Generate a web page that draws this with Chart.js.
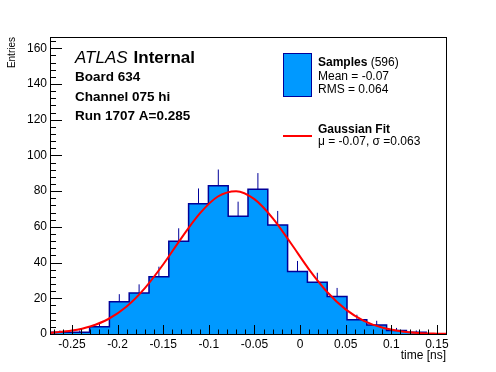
<!DOCTYPE html>
<html>
<head>
<meta charset="utf-8">
<script src="https://cdn.jsdelivr.net/npm/chart.js@4"></script>
<style>
  html, body { margin: 0; padding: 0; background: #fff; }
</style>
</head>
<body>
<canvas id="myChart" width="496" height="372"></canvas>
<script>
// histogram: 20 bins over the axis range
const binLow = -0.274;
const binWidth = 0.0217;
const counts = [1, 1, 4, 18, 23, 32, 52, 73, 83, 66, 81, 61, 35, 29, 21, 8, 5, 2, 1, 0];
const errors = [1, 1, 2, 4.3, 4.8, 5.7, 7.2, 8.5, 9.1, 8.1, 9.1, 7.9, 5.9, 5.3, 4.8, 2.8, 2.4, 1.4, 1, 0];

// gaussian fit curve
const fitX = [-0.274, -0.25, -0.23, -0.21, -0.19, -0.17, -0.15, -0.13, -0.11, -0.09, -0.07, -0.05,
              -0.03, -0.01, 0.01, 0.03, 0.05, 0.07, 0.09, 0.11, 0.13, 0.15, 0.16];
const fitY = [0.6, 1.9, 4.2, 8.4, 15.4, 25.7, 38.9, 53.7, 67.4, 77, 80, 75.5,
              64.9, 50.8, 36.1, 23.4, 13.8, 7.4, 3.6, 1.6, 0.6, 0.2, 0.1];

const xTicks = [-0.25, -0.2, -0.15, -0.1, -0.05, 0, 0.05, 0.1, 0.15];
const xTickLabels = ['-0.25', '-0.2', '-0.15', '-0.1', '-0.05', '0', '0.05', '0.1', '0.15'];
const yTicks = [0, 20, 40, 60, 80, 100, 120, 140, 160];

const titleLines = ['Board 634', 'Channel 075 hi', 'Run 1707 A=0.285'];
const samplesLines = ['Mean = -0.07', 'RMS = 0.064'];
const fitLine = '\u03bc = -0.07, \u03c3 =0.063';

const FONT = '"Liberation Sans", Arial, sans-serif';
const FILL = '#0099ff';
const EDGE = '#000099';

// build the step outline + error bar segments
let histPts = [];
for (let i = 0; i < counts.length; i++) {
    histPts.push({x: binLow + i * binWidth, y: counts[i]});
}
histPts.push({x: binLow + counts.length * binWidth, y: counts[counts.length - 1]});

let errPts = [];
for (let i = 0; i < counts.length; i++) {
    let c = binLow + (i + 0.5) * binWidth;
    errPts.push({x: c, y: counts[i]}, {x: c, y: counts[i] + errors[i]}, {x: c, y: null});
}

const rootFrame = {
    id: 'rootFrame',
    afterDatasetsDraw(chart) {
        const {ctx, chartArea: a, scales: {x, y}} = chart;
        ctx.save();
        ctx.strokeStyle = '#000';
        ctx.lineWidth = 1;
        ctx.beginPath();
        for (let k = -27; k <= 16; k++) {
            let px = Math.round(x.getPixelForValue(k / 100)) + 0.5;
            ctx.moveTo(px, a.bottom);
            ctx.lineTo(px, a.bottom - (k % 5 === 0 ? 9 : 4.5));
        }
        for (let k = 0; k <= 41; k++) {
            let py = Math.round(y.getPixelForValue(k * 4)) + 0.5;
            ctx.moveTo(a.left, py);
            ctx.lineTo(a.left + (k % 5 === 0 ? 12 : 6), py);
        }
        ctx.stroke();
        ctx.strokeRect(Math.round(a.left) + 0.5, Math.round(a.top) + 0.5,
                       Math.round(a.right - a.left), Math.round(a.bottom - a.top));
        ctx.restore();
    },
    afterDraw(chart) {
        const ctx = chart.ctx;
        ctx.save();
        ctx.fillStyle = '#000';
        ctx.textBaseline = 'alphabetic';
        ctx.textAlign = 'left';

        ctx.font = 'italic 17px ' + FONT;
        ctx.fillText('ATLAS', 75, 63);
        let w = ctx.measureText('ATLAS').width;
        ctx.font = 'bold 17px ' + FONT;
        ctx.fillText('Internal', 75 + w + 6, 63);

        ctx.font = 'bold 13.5px ' + FONT;
        ctx.fillText(titleLines[0], 75, 81);
        ctx.fillText(titleLines[1], 75, 100.5);
        ctx.fillText(titleLines[2], 75, 119.5);

        // legend
        ctx.fillStyle = FILL;
        ctx.fillRect(283, 53, 29, 44);
        ctx.strokeStyle = EDGE;
        ctx.lineWidth = 1;
        ctx.strokeRect(283.5, 53.5, 28, 43);

        ctx.fillStyle = '#000';
        ctx.font = 'bold 12px ' + FONT;
        ctx.fillText('Samples', 318, 66);
        w = ctx.measureText('Samples').width;
        ctx.font = '12px ' + FONT;
        ctx.fillText(' (596)', 318 + w, 66);
        ctx.fillText(samplesLines[0], 318, 79.5);
        ctx.fillText(samplesLines[1], 318, 93);

        ctx.strokeStyle = '#ff0000';
        ctx.lineWidth = 2;
        ctx.beginPath();
        ctx.moveTo(283, 136);
        ctx.lineTo(312, 136);
        ctx.stroke();

        ctx.font = 'bold 12px ' + FONT;
        ctx.fillText('Gaussian Fit', 318, 132.5);
        ctx.font = '12px ' + FONT;
        ctx.fillText(fitLine, 318, 145);
        ctx.restore();
    }
};

const ctx = document.getElementById('myChart');

const chart = new Chart(ctx, {
    type: 'line',
    data: {
        datasets: [
            {
                label: 'Gaussian Fit',
                data: fitX.map((v, i) => ({x: v, y: fitY[i]})),
                borderColor: '#ff0000',
                borderWidth: 2,
                pointRadius: 0,
                cubicInterpolationMode: 'monotone',
                fill: false,
                order: 0,
            },
            {
                label: 'errors',
                data: errPts,
                borderColor: EDGE,
                borderWidth: 1,
                pointRadius: 0,
                spanGaps: false,
                fill: false,
                order: 1,
            },
            {
                label: 'Samples',
                data: histPts,
                stepped: 'before',
                borderColor: EDGE,
                borderWidth: 1.5,
                backgroundColor: FILL,
                fill: 'origin',
                pointRadius: 0,
                order: 2,
            },
        ],
    },
    options: {
        responsive: false,
        animation: false,
        devicePixelRatio: 1,
        layout: {padding: {top: 37, right: 50, left: 0, bottom: 0}},
        plugins: {legend: {display: false}, tooltip: {enabled: false}},
        scales: {
            x: {
                type: 'linear',
                min: -0.274,
                max: 0.16,
                grid: {display: false, drawTicks: false},
                border: {display: false},
                afterBuildTicks: (s) => { s.ticks = xTicks.map(v => ({value: v})); },
                afterFit: (s) => { s.height = 38; },
                ticks: {
                    autoSkip: false,
                    maxRotation: 0,
                    padding: 3,
                    color: '#000',
                    font: {family: FONT, size: 12},
                    callback: (v, i) => xTickLabels[i],
                },
                title: {
                    display: true,
                    text: 'time [ns]',
                    align: 'end',
                    color: '#000',
                    font: {family: FONT, size: 12},
                    padding: {top: 0, bottom: 9},
                },
            },
            y: {
                min: 0,
                max: 166.3,
                grid: {display: false, drawTicks: false},
                border: {display: false},
                afterBuildTicks: (s) => { s.ticks = yTicks.map(v => ({value: v})); },
                afterFit: (s) => { s.width = 50; },
                ticks: {
                    padding: 3,
                    color: '#000',
                    font: {family: FONT, size: 12},
                },
                title: {
                    display: true,
                    text: 'Entries',
                    align: 'end',
                    color: '#000',
                    font: {family: FONT, size: 10},
                    padding: {top: 6, bottom: 0},
                },
            },
        },
    },
    plugins: [rootFrame],
});
</script>
</body>
</html>
